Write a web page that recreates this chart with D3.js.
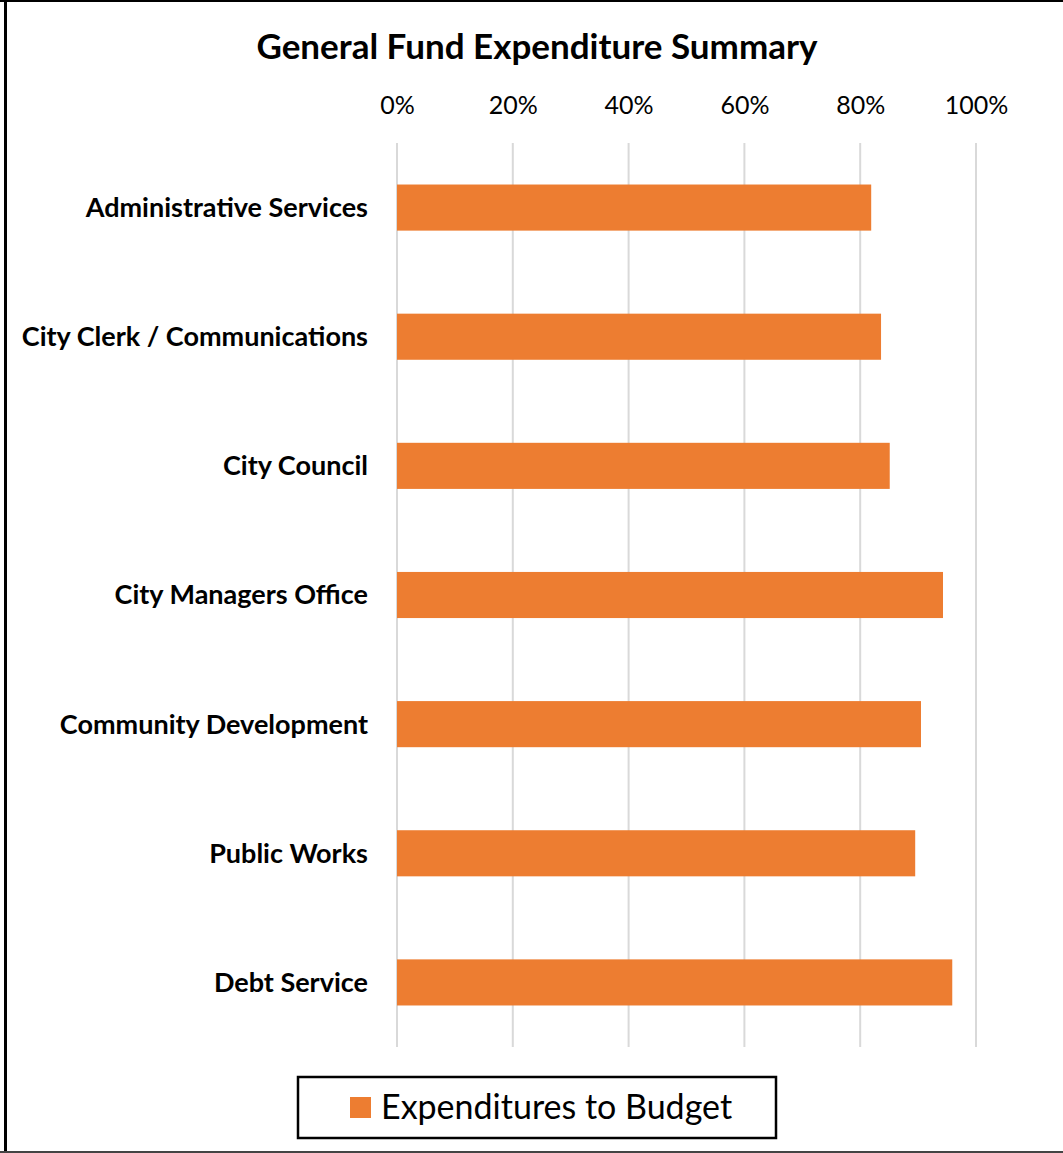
<!DOCTYPE html>
<html><head><meta charset="utf-8">
<script src="https://cdn.jsdelivr.net/npm/d3@7"></script>
<style>body{margin:0;background:#fff}svg{display:block}</style>
</head><body><svg id="c" width="1063" height="1153"></svg>
<script>
const categories = ["Administrative Services","City Clerk / Communications","City Council","City Managers Office","Community Development","Public Works","Debt Service"];
const values = [0.819, 0.836, 0.851, 0.943, 0.905, 0.895, 0.959];
const tickValues = [0, 0.2, 0.4, 0.6, 0.8, 1.0];
const seriesName = "Expenditures to Budget";
const title = "General Fund Expenditure Summary";

const svg = d3.select("#c");
const font = "Lato, 'Open Sans', sans-serif";
const orange = "#ED7D31";

// outer frame
svg.append("line").attr("x1",5.5).attr("x2",5.5).attr("y1",0).attr("y2",1153).attr("stroke","#000").attr("stroke-width",3);
svg.append("line").attr("x1",0).attr("x2",1063).attr("y1",1).attr("y2",1).attr("stroke","#000").attr("stroke-width",2);
svg.append("line").attr("x1",0).attr("x2",1063).attr("y1",1152).attr("y2",1152).attr("stroke","#444").attr("stroke-width",2);

const x = d3.scaleLinear().domain([0,1]).range([397,976]);
const y = d3.scaleBand().domain(categories).range([143,1047]).paddingInner(0.643).paddingOuter(0.3215);

svg.append("text").attr("x",537).attr("y",59).attr("text-anchor","middle")
  .attr("font-family",font).attr("font-weight","bold").attr("font-size",35).attr("fill","#000").text(title);

// gridlines
svg.append("g").selectAll("line").data(tickValues).join("line")
  .attr("x1",d=>x(d)).attr("x2",d=>x(d)).attr("y1",143).attr("y2",1047)
  .attr("stroke","#d9d9d9").attr("stroke-width",2);

// top axis
const axis = d3.axisTop(x).tickValues(tickValues).tickFormat(d3.format(".0%")).tickSize(0).tickPadding(0);
const ag = svg.append("g").attr("transform","translate(0,114)").call(axis);
ag.select(".domain").remove();
ag.selectAll("text").attr("font-family",font).attr("font-size",25).attr("fill","#000").attr("dy",0);

// bars
svg.append("g").selectAll("rect").data(categories).join("rect")
  .attr("x",x(0)).attr("y",d=>y(d)).attr("height",y.bandwidth())
  .attr("width",(d,i)=>x(values[i])-x(0)).attr("fill",orange);

// category labels
const yAxis = d3.axisLeft(y).tickSize(0).tickPadding(0);
const yg = svg.append("g").attr("transform","translate(368,0)").call(yAxis);
yg.select(".domain").remove();
yg.selectAll("text").attr("font-family",font).attr("font-weight","bold").attr("font-size",27).attr("fill","#000").attr("dy","0.35em");

// legend
const lg = svg.append("g");
lg.append("rect").attr("x",298).attr("y",1077).attr("width",478).attr("height",61).attr("fill","#fff").attr("stroke","#000").attr("stroke-width",2.5);
lg.append("rect").attr("x",350).attr("y",1097).attr("width",21).attr("height",21).attr("fill",orange);
lg.append("text").attr("x",381).attr("y",1119).attr("font-family",font).attr("font-size",34).attr("fill","#000").text(seriesName);
</script></body></html>
